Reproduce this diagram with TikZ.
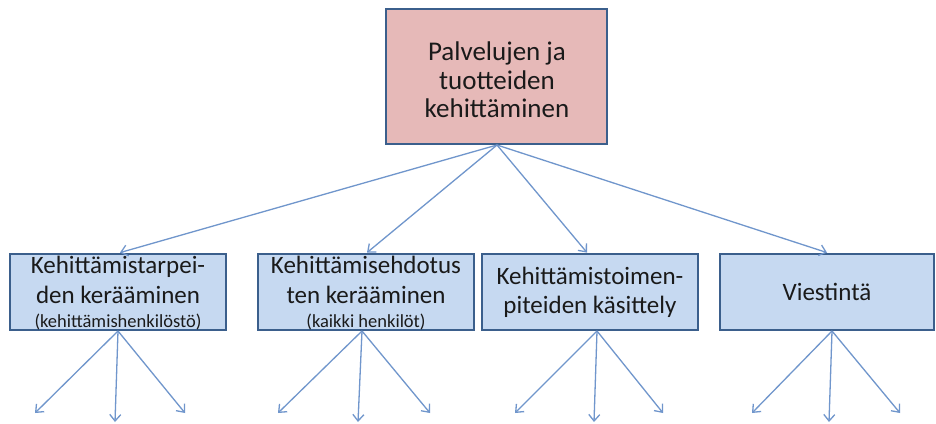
\documentclass[tikz,border=0pt]{standalone}
\usepackage{fontspec}
\setmainfont{Carlito}
\usetikzlibrary{arrows.meta,calc}
\definecolor{boxedge}{HTML}{3B5F8C}
\definecolor{pinkfill}{HTML}{E6B9B8}
\definecolor{bluefill}{HTML}{C6D9F1}
\definecolor{arrowblue}{HTML}{7096CC}
\definecolor{ink}{HTML}{1A1A1A}
\tikzset{
  topbox/.style={draw=boxedge, line width=2.8pt, fill=pinkfill, minimum width=221pt, minimum height=135pt, inner sep=0pt},
  subbox/.style={draw=boxedge, line width=2.8pt, fill=bluefill, minimum width=216pt, minimum height=76pt, inner sep=0pt},
  lbl/.style={text=ink, align=center, inner sep=0pt},
  bigtext/.style={lbl, font=\fontsize{27}{28.7}\selectfont},
  midtext/.style={lbl, font=\fontsize{25}{30}\selectfont},
  smalltext/.style={lbl, font=\fontsize{18.5}{20}\selectfont},
  link/.style={draw=arrowblue, line width=1.3pt, -{Straight Barb[length=6.5pt,width=11pt,line width=1.3pt]}},
}
\begin{document}
\begin{tikzpicture}[x=1pt,y=-1pt]
  \useasboundingbox (0,0) rectangle (936,423);
  \fill[white] (0,0) rectangle (936,423);

  % boxes
  \node[topbox] (top) at (496.5,76.5) {};
  \node[subbox] (b1) at (118,292) {};
  \node[subbox] (b2) at (366,292) {};
  \node[subbox] (b3) at (590,292) {};
  \node[subbox, minimum width=214pt] (b4) at (827,292) {};

  % texts
  \node[bigtext] (ttop) at (497,80) {Palvelujen ja\\tuotteiden\\kehittäminen};
  \node[midtext] (t1) at (118,280) {Kehittämistarpei-\\den kerääminen};
  \node[smalltext] (s1) at (118,322) {(kehittämishenkilöstö)};
  \node[midtext] (t2) at (366,280) {Kehittämisehdotus\\ten kerääminen};
  \node[smalltext] (s2) at (366,322) {(kaikki henkilöt)};
  \node[midtext, font=\fontsize{25}{29}\selectfont] (t3) at (590,292) {Kehittämistoimen-\\piteiden käsittely};
  \node[midtext] (t4) at (827,292) {Viestintä};

  % links from the main box
  \coordinate (hub) at (497,145);
  \draw[link] (hub) -- ($(b1.north)+(2,0)$);
  \draw[link] (hub) -- ($(b2.north)+(1,0)$);
  \draw[link] (hub) -- ($(b3.north)+(-3,0)$);
  \draw[link] (hub) -- ($(b4.north)+(0,0)$);

  % links below each box
  \coordinate (e1a) at (35,413); \coordinate (e1b) at (115,422); \coordinate (e1c) at (185,413);
  \coordinate (e2a) at (278,413); \coordinate (e2b) at (358,422); \coordinate (e2c) at (430,413);
  \coordinate (e3a) at (515,413); \coordinate (e3b) at (594,422); \coordinate (e3c) at (663,413);
  \coordinate (e4a) at (752,413); \coordinate (e4b) at (829,422); \coordinate (e4c) at (900,413);
  \foreach \b/\x in {1/118,2/362,3/597,4/832}{
    \coordinate (o\b) at (\x,331);
    \draw[link] (o\b) -- (e\b a);
    \draw[link] (o\b) -- (e\b b);
    \draw[link] (o\b) -- (e\b c);
  }
\end{tikzpicture}
\end{document}
